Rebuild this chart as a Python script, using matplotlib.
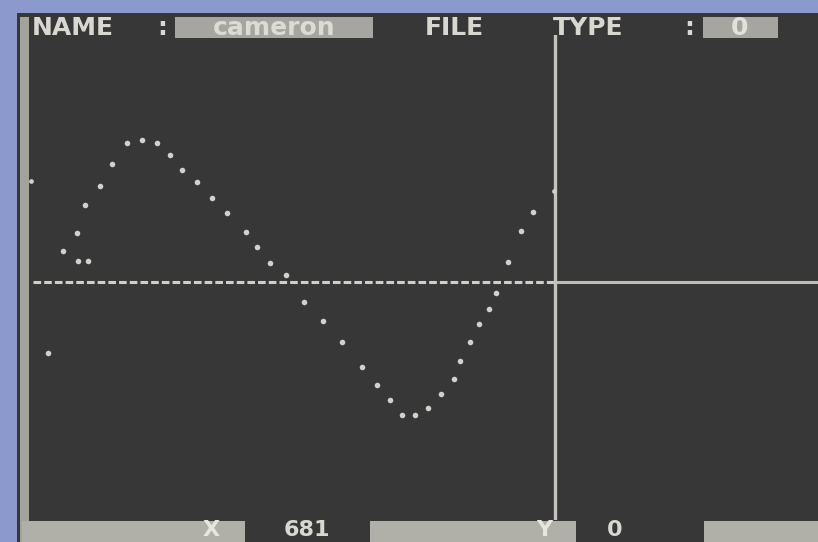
import matplotlib.pyplot as plt
from matplotlib.patches import Rectangle

# sampled points (x in screen units, y in signal units, 0 = centre line)
xs = [31, 50, 68, 69, 78, 82, 97, 113, 132, 151, 171, 187, 203, 222, 241, 260,
      285, 299, 315, 336, 359, 383, 408, 433, 453, 469, 485, 501, 518, 535,
      551, 559, 572, 584, 596, 605, 621, 637, 653]
ys = [-71, 31, 49, 21, 77, 21, 96, 118, 139, 142, 139, 127, 112, 100, 84, 69,
      50, 35, 19, 7, -20, -39, -60, -85, -103, -118, -133, -133, -126, -112,
      -97, -79, -60, -42, -27, -11, 20, 51, 70]

cursor_x = 681
cursor_y = 0
file_name = 'cameron'
file_type = '0'

W, H = 818, 542
BLUE = '#8c99cc'
SCREEN = '#383737'
PALE = '#b0afa8'
INK = '#d8d8d0'

fig = plt.figure(figsize=(W / 100, H / 100), dpi=100, facecolor=BLUE)


def box(x0, y0, x1, y1, color, z=-1):
	# rectangle given in screen pixels (top-left origin)
	fig.add_artist(Rectangle((x0 / W, 1 - y1 / H), (x1 - x0) / W, (y1 - y0) / H,
	                         transform=fig.transFigure, color=color, lw=0, zorder=z))


def label(px, py, s, ha='left', color=INK, size=18, va='center'):
	fig.text(px / W, 1 - py / H, s, ha=ha, va=va, color=color,
	         fontsize=size, fontweight='bold', family='DejaVu Sans', zorder=3)


box(17, 13, 818, 542, SCREEN, -3)
box(20, 17, 29, 542, '#a3a29b', -2)

# header line
box(175, 17, 373, 38, '#a6a59f')
box(703, 17, 778, 38, '#a6a59f')
label(32, 28, 'NAME')
label(162, 28, ':', 'center')
label(274, 28, file_name, 'center', '#dcdcd4')
label(425, 28, 'FILE')
label(553, 28, 'TYPE')
label(689, 28, ':', 'center')
label(740, 28, file_type, 'center', '#e2e2da')

# status line
box(22, 521, 245, 542, PALE)
box(370, 521, 576, 542, PALE)
box(704, 521, 818, 542, PALE)
label(211, 536, 'X', 'center', '#e6e6de', 16, 'baseline')
label(307, 536, str(cursor_x), 'center', INK, 16, 'baseline')
label(544, 536, 'Y', 'center', '#e6e6de', 16, 'baseline')
label(615, 536, str(cursor_y), 'center', INK, 16, 'baseline')

# plotting area
ax = fig.add_axes([24 / W, 22 / H, 794 / W, 485 / H])
ax.set_xlim(0, 1018)
ax.set_ylim(-238, 247)
ax.axis('off')

ax.plot([11, cursor_x], [cursor_y, cursor_y], color='#cfcfc8', lw=2.2,
        dashes=(2.5, 1))
ax.plot([cursor_x, 1018], [cursor_y, cursor_y], color='#bdbdb6', lw=2.2)
ax.axvline(cursor_x, color='#c4c4bc', lw=2.4)

ax.plot(xs, ys, 'o', color='#d2d2ca', ms=4, mec='none')
# scale marks
ax.plot([9, cursor_x - 2], [101, 91], 'o', color='#d2d2ca', ms=3.4, mec='none')

fig.savefig('out.png', dpi=100, facecolor=BLUE)
